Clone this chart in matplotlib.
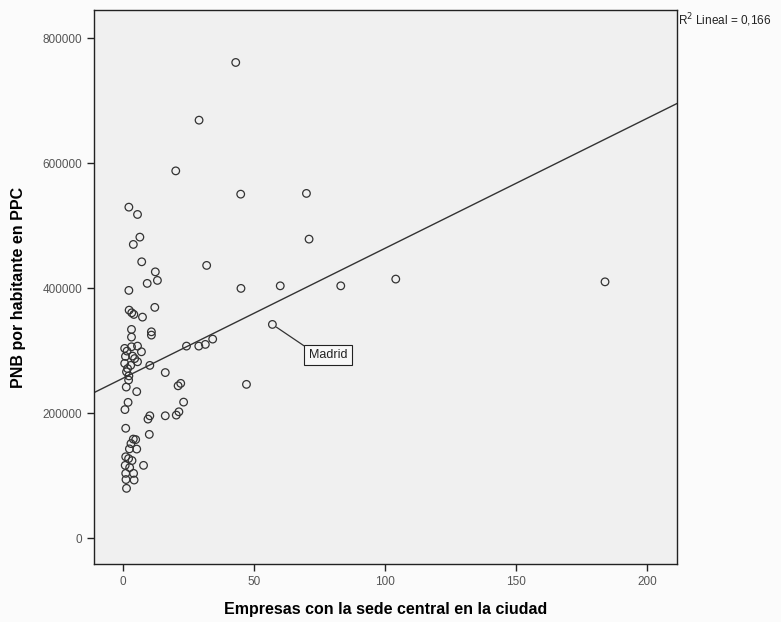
import matplotlib
matplotlib.use("Agg")
import matplotlib.pyplot as plt
import numpy as np

plt.rcParams['font.family'] = ['Liberation Sans', 'DejaVu Sans']

# Companies headquartered in each city vs. GNP per capita (PPP)
empresas = [
    43.0, 29.0, 20.1, 44.9, 70.0, 71.0, 31.9, 45.0, 60.0, 83.1, 104.1, 184.0,
    47.1,
    24.2, 28.9, 31.4, 34.2, 21.0, 22.0, 23.1, 16.1, 10.2, 9.5, 16.1, 20.3, 21.3,
    10.0, 7.8,
    2.2, 5.5, 6.4, 3.9, 7.1, 12.3, 9.2, 13.1, 2.2, 12.1, 2.3, 3.3, 4.1, 7.4,
    3.2, 3.2, 10.8, 10.8,
    0.6, 3.2, 5.5, 7.0, 0.9, 3.6, 0.6, 2.9, 5.5, 10.2, 1.3, 2.2, 2.1, 1.2, 5.2,
    1.9, 0.7, 1.0, 1.7, 4.4, 1.5,
    3.9, 4.8, 3.0, 5.2, 2.4, 1.0, 2.1, 3.4, 0.8, 2.5, 4.0, 1.0, 4.2, 1.1, 1.3,
]
pnb = [
    761600, 669200, 588000, 550700, 551900, 478700, 436600, 399800, 403900,
    403900, 414700, 410300,
    246100,
    307400, 307400, 310100, 318600, 243800, 247700, 217700, 265000, 195800,
    190500, 195800, 196900, 202200, 166000, 116400,
    529900, 518200, 481900, 470200, 442400, 426300, 407800, 412600, 396600,
    369400, 365000, 360700, 358100, 353800, 334100, 321800, 330300, 325000,
    303700, 306300, 307400, 298300, 290900, 291400, 279700, 276500, 282300,
    276500, 266200, 259700, 253000, 241800, 234500, 217300, 205700, 175800,
    271400, 287400, 299400,
    158500, 157700, 151300, 142500, 142800, 130200, 127300, 124100, 116400,
    112900, 103600, 103600, 92900, 93700, 79600,
]

# Labelled city
madrid_x, madrid_y = 57.0, 342100

# Linear fit
intercept = 256000
slope = 2080
r2_text = "R$^2$ Lineal = 0,166"

x_ticks = [0, 50, 100, 150, 200]
y_ticks = [0, 200000, 400000, 600000, 800000]
x_label = "Empresas con la sede central en la ciudad"
y_label = "PNB por habitante en PPC"

fig = plt.figure(figsize=(7.81, 6.22), dpi=100, facecolor='#fbfbfb')
ax = fig.add_axes([0.1204, 0.0932, 0.7465, 0.8907])
ax.set_facecolor('#f0f0f0')

ax.set_xlim(-11.1, 211.5)
ax.set_ylim(-41600, 845600)

ax.scatter(empresas + [madrid_x], pnb + [madrid_y], s=30, facecolors='none',
           edgecolors='#333333', linewidths=0.9, zorder=3)

xl = np.array(ax.get_xlim())
ax.plot(xl, intercept + slope * xl, color='#333333', lw=1.0, zorder=2)

ax.annotate("Madrid", xy=(madrid_x, madrid_y), xytext=(40, -22),
            textcoords='offset points', ha='center', va='center', fontsize=9,
            color='#222222',
            bbox=dict(boxstyle='square,pad=0.35', fc='#f8f8f8', ec='#222222', lw=0.8),
            arrowprops=dict(arrowstyle='-', color='#333333', lw=0.9,
                            relpos=(0, 1), shrinkA=0, shrinkB=3.5))

ax.set_xticks(x_ticks)
ax.set_yticks(y_ticks)
ax.set_xticklabels([str(v) for v in x_ticks])
ax.set_yticklabels([str(v) for v in y_ticks])
ax.tick_params(direction='out', length=5, width=1, colors='#222222',
               labelcolor='#555555', labelsize=8.5)
for sp in ax.spines.values():
    sp.set_color('#222222')
    sp.set_linewidth(1.0)

ax.set_xlabel(x_label, fontsize=11.5, fontweight='bold', labelpad=10)
ax.set_ylabel(y_label, fontsize=11.5, fontweight='bold', labelpad=12)

fig.text(0.868, 0.968, r2_text, fontsize=8.5, color='#222222', ha='left', va='center')

fig.savefig("out.png", dpi=100, facecolor=fig.get_facecolor())
